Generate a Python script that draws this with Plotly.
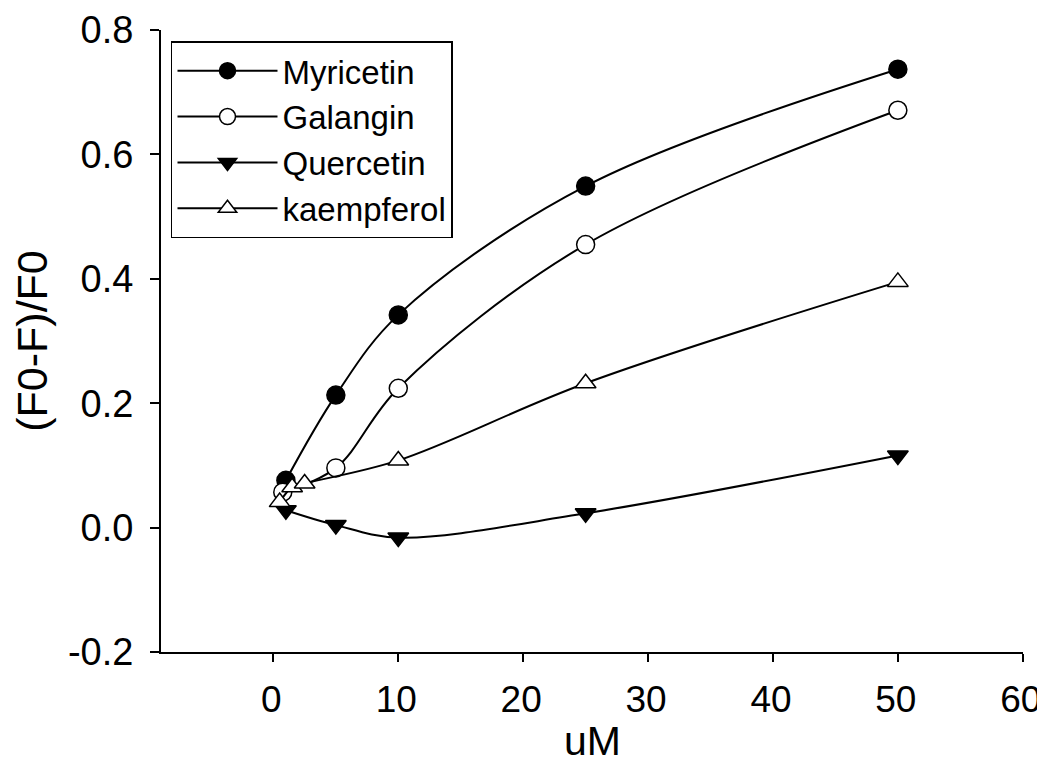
import plotly.graph_objects as go

x_myr = [1, 5, 10, 25, 50]
y_myr = [0.076, 0.213, 0.342, 0.549, 0.737]
x_gal = [0.75, 5, 10, 25, 50]
y_gal = [0.057, 0.096, 0.224, 0.455, 0.671]
x_que = [1, 5, 10, 25, 50]
y_que = [0.028, 0.004, -0.016, 0.023, 0.116]
x_kae = [0.5, 1.5, 2.5, 10, 25, 50]
y_kae = [0.041, 0.065, 0.071, 0.108, 0.232, 0.395]

x_ticks = [0, 10, 20, 30, 40, 50, 60]
y_ticks = [-0.2, 0.0, 0.2, 0.4, 0.6, 0.8]

FONT = "Liberation Sans, Arial, sans-serif"

fig = go.Figure()
series = [
    ("Myricetin", x_myr, y_myr, "circle", "black"),
    ("Galangin", x_gal, y_gal, "circle", "white"),
    ("Quercetin", x_que, y_que, "triangle-down", "black"),
    ("kaempferol", x_kae, y_kae, "triangle-up", "white"),
]
for name, xs, ys, sym, fill in series:
    fig.add_trace(go.Scatter(
        x=xs, y=ys, name=name, mode="lines+markers",
        line=dict(color="black", width=2, shape="spline", smoothing=1.0),
        marker=dict(symbol=sym, size=18, color=fill,
                    line=dict(color="black", width=1.5)),
    ))

# page body has an 8px margin; margins compensate so the plot area sits where the reference has it
fig.update_layout(
    width=1045, height=764,
    paper_bgcolor="white", plot_bgcolor="white",
    margin=dict(l=153, r=30, t=22, b=120),
    font=dict(family=FONT, size=37, color="black"),
    showlegend=True,
    legend=dict(
        x=0.0116, y=0.982, xanchor="left", yanchor="top",
        bgcolor="white", bordercolor="black", borderwidth=1.5,
        font=dict(size=33, family=FONT, color="black"),
        itemwidth=100, tracegroupgap=0,
    ),
    xaxis=dict(
        range=[-9, 60.02], tickmode="array", tickvals=x_ticks,
        ticks="outside", ticklen=8, tickwidth=2, tickcolor="black",
        showline=True, linecolor="black", linewidth=2,
        showgrid=False, zeroline=False, automargin=False,
        tickfont=dict(size=37), ticklabelstandoff=6, ticklabelshift=-2,
        ticklabeloverflow="allow",
    ),
    yaxis=dict(
        range=[-0.2, 0.8], tickmode="array", tickvals=y_ticks,
        ticktext=[f"{v:.1f}" for v in y_ticks],
        ticks="outside", ticklen=9, tickwidth=2, tickcolor="black",
        showline=True, linecolor="black", linewidth=2,
        showgrid=False, zeroline=False, automargin=False,
        tickfont=dict(size=38), ticklabelstandoff=9,
        title=dict(text="(F0-F)/F0", font=dict(size=43), standoff=8),
    ),
    annotations=[dict(
        text="uM", xref="paper", yref="paper", x=0.5, y=-0.1431,
        xanchor="center", yanchor="middle", showarrow=False,
        font=dict(size=41, family=FONT, color="black"),
    )],
)

fig.write_html("out.html")
